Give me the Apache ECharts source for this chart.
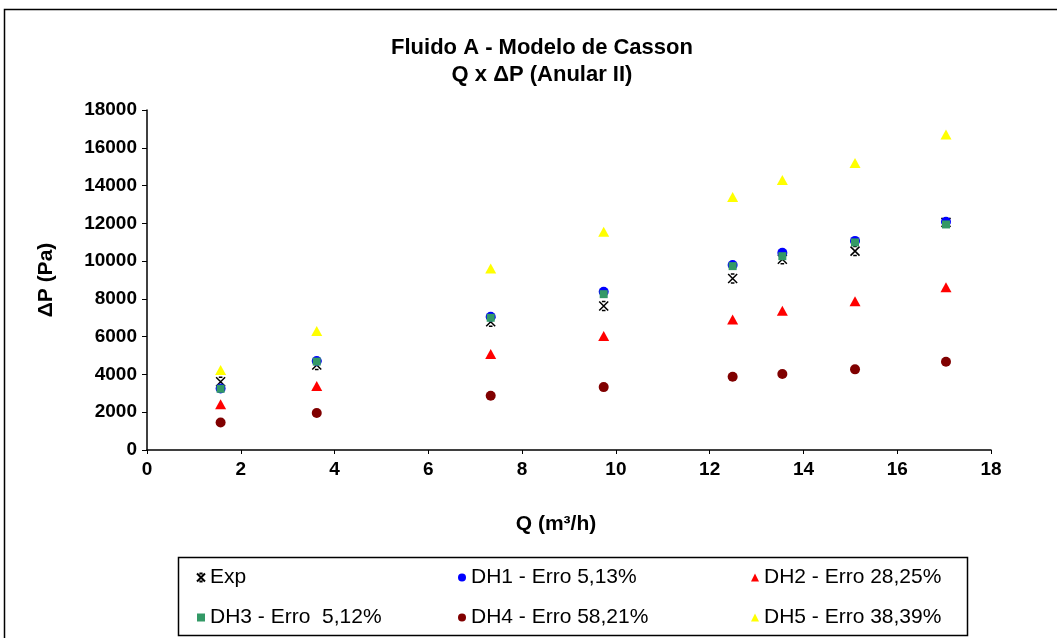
<!DOCTYPE html>
<html>
<head>
<meta charset="utf-8">
<script src="https://cdn.jsdelivr.net/npm/echarts@6/dist/echarts.min.js"></script>
<style>html,body{margin:0;padding:0;background:#fff}#c{width:1057px;height:638px}</style>
</head>
<body>
<div id="c"></div>
<script>
const Q = [1.57, 3.62, 7.33, 9.74, 12.49, 13.55, 15.10, 17.04];
const exp = [3610, 4500, 6790, 7620, 9080, 10100, 10530, 12050];
const dh1 = [3260, 4710, 7050, 8380, 9790, 10440, 11070, 12080];
const dh2 = [2420, 3390, 5080, 6030, 6910, 7370, 7880, 8610];
const dh3 = [3240, 4680, 7000, 8250, 9735, 10260, 10990, 11940];
const dh4 = [1460, 1960, 2870, 3330, 3880, 4020, 4270, 4670];
const dh5 = [4230, 6300, 9610, 11550, 13400, 14290, 15200, 16700];
const names = ['Exp', 'DH1 - Erro 5,13%', 'DH2 - Erro 28,25%', 'DH3 - Erro  5,12%', 'DH4 - Erro 58,21%', 'DH5 - Erro 38,39%'];
const yTicks = [0, 2000, 4000, 6000, 8000, 10000, 12000, 14000, 16000, 18000];
const xTicks = [0, 2, 4, 6, 8, 10, 12, 14, 16, 18];

const pts = (ys) => Q.map((q, i) => [q, ys[i]]);
const starPath = 'path://M0,0L10,10M10,0L0,10M3,0L7,0M3,10L7,10';
const sans = '"Liberation Sans", Arial, sans-serif';

const chart = echarts.init(document.getElementById('c'), null, {renderer: 'canvas'});
const legendText = {fontFamily: sans, fontSize: 21, color: '#000'};
const legendCommon = {orient: 'vertical', itemGap: 19, itemWidth: 8, itemHeight: 8, textStyle: legendText, padding: 0, top: 567};
chart.setOption({
  animation: false,
  backgroundColor: '#fff',
  title: {
    text: 'Fluido A - Modelo de Casson\nQ x \u0394P (Anular II)',
    left: 537, top: 29, textAlign: 'center',
    textStyle: {fontFamily: sans, fontSize: 22, fontWeight: 'bold', color: '#000', lineHeight: 27}
  },
  graphic: [
    {type: 'rect', shape: {x: 4.5, y: 9.5, width: 1100, height: 700}, style: {fill: 'none', stroke: '#000', lineWidth: 1.5}, silent: true, z: -1},
    {type: 'rect', shape: {x: 178.5, y: 557.5, width: 789, height: 78}, style: {fill: 'none', stroke: '#000', lineWidth: 1.5}, silent: true}
  ],
  legend: [
    Object.assign({data: [names[0], names[3]], left: 196}, legendCommon),
    Object.assign({data: [names[1], names[4]], left: 458}, legendCommon),
    Object.assign({data: [names[2], names[5]], left: 751}, legendCommon)
  ],
  grid: {left: 147, right: 66, top: 110, bottom: 188},
  xAxis: {
    type: 'value', min: 0, max: 18, interval: 2,
    name: 'Q (m\u00b3/h)', nameLocation: 'middle', nameGap: 64,
    nameTextStyle: {fontFamily: sans, fontSize: 21, fontWeight: 'bold', color: '#000', padding: [0, 26, 0, 0]},
    axisLine: {show: true, lineStyle: {color: '#000', width: 1.5}},
    axisTick: {show: true, length: 4, lineStyle: {color: '#000'}},
    splitLine: {show: false},
    axisLabel: {fontFamily: sans, fontSize: 19, fontWeight: 'bold', color: '#000', margin: 10,
      formatter: (v) => xTicks.includes(v) ? String(v) : ''}
  },
  yAxis: {
    type: 'value', min: 0, max: 18000, interval: 2000,
    name: '\u0394P (Pa)', nameLocation: 'middle', nameGap: 90, nameRotate: 90,
    nameTextStyle: {fontFamily: sans, fontSize: 21, fontWeight: 'bold', color: '#000'},
    axisLine: {show: true, lineStyle: {color: '#000', width: 1.5}},
    axisTick: {show: true, length: 5, lineStyle: {color: '#000'}},
    splitLine: {show: false},
    axisLabel: {fontFamily: sans, fontSize: 19, fontWeight: 'bold', color: '#000', margin: 10,
      formatter: (v) => yTicks.includes(v) ? String(v) : ''}
  },
  series: [
    {name: names[0], type: 'scatter', data: pts(exp), symbol: starPath, symbolSize: 9,
      itemStyle: {color: 'rgba(0,0,0,0)', borderColor: '#000', borderWidth: 1.5, opacity: 1}, z: 2},
    {name: names[1], type: 'scatter', data: pts(dh1), symbol: 'circle', symbolSize: 10,
      itemStyle: {color: '#0000ff', opacity: 1}, z: 3},
    {name: names[2], type: 'scatter', data: pts(dh2), symbol: 'triangle', symbolSize: [11, 10],
      itemStyle: {color: '#ff0000', opacity: 1}, z: 4},
    {name: names[3], type: 'scatter', data: pts(dh3), symbol: 'rect', symbolSize: 8,
      itemStyle: {color: '#339966', opacity: 1}, z: 5},
    {name: names[4], type: 'scatter', data: pts(dh4), symbol: 'circle', symbolSize: 10,
      itemStyle: {color: '#800000', opacity: 1}, z: 6},
    {name: names[5], type: 'scatter', data: pts(dh5), symbol: 'triangle', symbolSize: [11, 10],
      itemStyle: {color: '#ffff00', opacity: 1}, z: 7}
  ]
});
</script>
</body>
</html>
